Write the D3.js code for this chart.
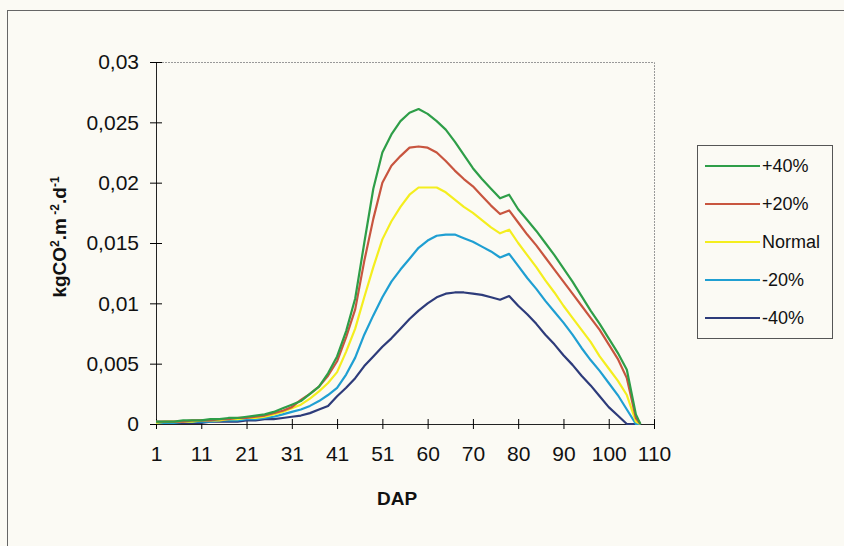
<!DOCTYPE html>
<html>
<head>
<meta charset="utf-8">
<script src="https://cdn.jsdelivr.net/npm/d3@7"></script>
<style>
  body { margin: 0; background: #fbfaf4; }
  svg { display: block; font-family: "Liberation Sans", Arial, sans-serif; }
</style>
</head>
<body>
<script>
// position of each point along the category axis (0 = first day)
const dayIndex = [0, 2, 4, 6, 8, 10, 12, 14, 16, 18, 20, 22, 24, 26, 28, 30, 32, 34, 36, 38,
  40, 42, 44, 46, 48, 50, 52, 54, 56, 58, 60, 62, 64, 66, 68, 70, 72, 74, 76, 78,
  80, 82, 84, 86, 88, 90, 92, 94, 96, 98, 100, 102, 104, 106, 107];

const plus40 = [0.0002, 0.0002, 0.0002, 0.0003, 0.0003, 0.0003, 0.0004, 0.0004, 0.0005, 0.0005,
  0.0006, 0.0007, 0.0008, 0.0010, 0.0013, 0.0016, 0.0019, 0.0025, 0.0031, 0.0042,
  0.0056, 0.0077, 0.0104, 0.0150, 0.0195, 0.0225, 0.0240, 0.0251, 0.0258, 0.0261,
  0.0257, 0.0251, 0.0244, 0.0234, 0.0223, 0.0212, 0.0203, 0.0195, 0.0187, 0.0190,
  0.0178, 0.0169, 0.0160, 0.0150, 0.0140, 0.0129, 0.0118, 0.0106, 0.0094, 0.0083,
  0.0071, 0.0059, 0.0045, 0.0008, 0];
const plus20 = [0.0002, 0.0002, 0.0002, 0.0002, 0.0003, 0.0003, 0.0003, 0.0004, 0.0004, 0.0005,
  0.0005, 0.0006, 0.0007, 0.0009, 0.0011, 0.0014, 0.0020, 0.0025, 0.0031, 0.0040,
  0.0052, 0.0072, 0.0095, 0.0135, 0.0170, 0.0200, 0.0214, 0.0222, 0.0229, 0.0230,
  0.0229, 0.0225, 0.0218, 0.0210, 0.0203, 0.0197, 0.0189, 0.0181, 0.0174, 0.0177,
  0.0167, 0.0157, 0.0148, 0.0138, 0.0128, 0.0118, 0.0108, 0.0098, 0.0088, 0.0078,
  0.0066, 0.0054, 0.0038, 0.0005, 0];
const normal = [0.0001, 0.0002, 0.0002, 0.0002, 0.0002, 0.0003, 0.0003, 0.0003, 0.0004, 0.0004,
  0.0005, 0.0005, 0.0006, 0.0008, 0.0010, 0.0013, 0.0016, 0.0021, 0.0027, 0.0034,
  0.0043, 0.0060, 0.0079, 0.0105, 0.0130, 0.0153, 0.0168, 0.0180, 0.0190, 0.0196,
  0.0196, 0.0196, 0.0192, 0.0186, 0.0180, 0.0175, 0.0169, 0.0163, 0.0158, 0.0161,
  0.0150, 0.0140, 0.0130, 0.0119, 0.0109, 0.0098, 0.0088, 0.0078, 0.0068, 0.0056,
  0.0046, 0.0036, 0.0024, 0.0002, 0];
const minus20 = [0.0001, 0.0001, 0.0001, 0.0002, 0.0002, 0.0002, 0.0002, 0.0003, 0.0003, 0.0003,
  0.0004, 0.0004, 0.0005, 0.0006, 0.0008, 0.0010, 0.0012, 0.0015, 0.0019, 0.0024,
  0.0030, 0.0041, 0.0055, 0.0074, 0.0090, 0.0105, 0.0118, 0.0128, 0.0137, 0.0146,
  0.0152, 0.0156, 0.0157, 0.0157, 0.0154, 0.0151, 0.0147, 0.0143, 0.0138, 0.0141,
  0.0131, 0.0121, 0.0112, 0.0102, 0.0093, 0.0084, 0.0074, 0.0063, 0.0053, 0.0044,
  0.0034, 0.0024, 0.0012, 0, 0];
const minus40 = [0.0001, 0.0001, 0.0001, 0.0001, 0.0001, 0.0001, 0.0002, 0.0002, 0.0002, 0.0002,
  0.0003, 0.0003, 0.0004, 0.0004, 0.0005, 0.0006, 0.0007, 0.0009, 0.0012, 0.0015,
  0.0023, 0.0030, 0.0038, 0.0048, 0.0056, 0.0064, 0.0071, 0.0079, 0.0087, 0.0094,
  0.0100, 0.0105, 0.0108, 0.0109, 0.0109, 0.0108, 0.0107, 0.0105, 0.0103, 0.0106,
  0.0098, 0.0091, 0.0083, 0.0074, 0.0066, 0.0057, 0.0049, 0.0040, 0.0032, 0.0023,
  0.0014, 0.0007, 0, 0, 0];

const seriesNames = ["+40%", "+20%", "Normal", "-20%", "-40%"];
const seriesValues = [plus40, plus20, normal, minus20, minus40];
const seriesColors = ["#2e9e48", "#c8553f", "#f4ee1e", "#1f9fd2", "#2d3b7a"];

const xTickPos = [0, 10, 20, 30, 40, 50, 60, 70, 80, 90, 100, 110];
const xTickLabels = ["1", "11", "21", "31", "41", "51", "60", "70", "80", "90", "100", "110"];
const yTicks = [0, 0.005, 0.01, 0.015, 0.02, 0.025, 0.03];

const width = 844, height = 546;
const plot = { left: 156, right: 654, top: 62, bottom: 424 };

const svg = d3.select("body").append("svg")
  .attr("width", width)
  .attr("height", height);

// outer chart frame (runs off the right and bottom of the picture)
svg.append("rect")
  .attr("x", 7.5).attr("y", 10.5)
  .attr("width", 900).attr("height", 600)
  .attr("fill", "none")
  .attr("stroke", "#666")
  .attr("stroke-width", 1);

const x = d3.scaleLinear().domain([0, 110]).range([plot.left, plot.right]);
const y = d3.scaleLinear().domain([0, 0.03]).range([plot.bottom, plot.top]);

// plot area top and right border (light dotted)
svg.append("path")
  .attr("d", `M${plot.left},${plot.top + 0.5}H${plot.right + 0.5}V${plot.bottom}`)
  .attr("fill", "none")
  .attr("stroke", "#999")
  .attr("stroke-dasharray", "2,1");

const fmt = d => d3.format("")(d).replace(".", ",");

// y axis
const yAxis = svg.append("g")
  .attr("transform", `translate(${plot.left},0)`)
  .call(d3.axisLeft(y).tickValues(yTicks).tickFormat(fmt).tickSizeInner(6).tickSizeOuter(0).tickPadding(11));
yAxis.selectAll(".tick line").attr("x2", 12).attr("transform", "translate(-6,0)");
yAxis.selectAll("text").attr("font-size", 21).attr("fill", "#111")
  .attr("font-family", "Liberation Sans, Arial, sans-serif");
yAxis.select(".domain").attr("stroke", "#222");

// x axis
const xAxis = svg.append("g")
  .attr("transform", `translate(0,${plot.bottom})`)
  .call(d3.axisBottom(x).tickValues(xTickPos).tickFormat((d, i) => xTickLabels[i])
    .tickSizeInner(5).tickSizeOuter(0).tickPadding(17));
xAxis.selectAll(".tick line").attr("y2", 10).attr("transform", "translate(0,-5)");
xAxis.selectAll("text").attr("font-size", 21).attr("fill", "#111")
  .attr("font-family", "Liberation Sans, Arial, sans-serif");
xAxis.select(".domain").attr("stroke", "#222");

// lines, drawn lowest first so +40% sits on top
const line = d3.line()
  .x((d, i) => x(dayIndex[i]))
  .y(d => y(d));

seriesValues.slice().reverse().forEach((vals, k) => {
  const idx = seriesValues.length - 1 - k;
  svg.append("path")
    .datum(vals)
    .attr("d", line)
    .attr("fill", "none")
    .attr("stroke", seriesColors[idx])
    .attr("stroke-width", 2.2)
    .attr("stroke-linejoin", "round");
});

// axis titles
svg.append("text")
  .attr("x", (plot.left + plot.right) / 2 - 8)
  .attr("y", 505)
  .attr("text-anchor", "middle")
  .attr("font-size", 19)
  .attr("font-weight", "bold")
  .attr("fill", "#111")
  .text("DAP");

const yTitle = svg.append("text")
  .attr("transform", "translate(66,237) rotate(-90)")
  .attr("text-anchor", "middle")
  .attr("font-size", 19)
  .attr("font-weight", "bold")
  .attr("fill", "#111");
yTitle.append("tspan").text("kgCO");
yTitle.append("tspan").attr("dy", -7).attr("font-size", 12).text("2");
yTitle.append("tspan").attr("dy", 7).text(".m");
yTitle.append("tspan").attr("dy", -7).attr("font-size", 12).text(" -2");
yTitle.append("tspan").attr("dy", 7).text(".d");
yTitle.append("tspan").attr("dy", -7).attr("font-size", 12).text("-1");

// legend
const legend = svg.append("g");
legend.append("rect")
  .attr("x", 697.5).attr("y", 145.5)
  .attr("width", 135).attr("height", 193)
  .attr("fill", "#fbfaf4")
  .attr("stroke", "#555");

const legendY = d3.scalePoint().domain(seriesNames).range([166, 318]);
seriesNames.forEach((name, i) => {
  const ly = legendY(name);
  legend.append("line")
    .attr("x1", 705).attr("x2", 760)
    .attr("y1", ly).attr("y2", ly)
    .attr("stroke", seriesColors[i])
    .attr("stroke-width", 2.2);
  legend.append("text")
    .attr("x", 762).attr("y", ly + 6)
    .attr("font-size", 18)
    .attr("fill", "#111")
    .text(name);
});
</script>
</body>
</html>
